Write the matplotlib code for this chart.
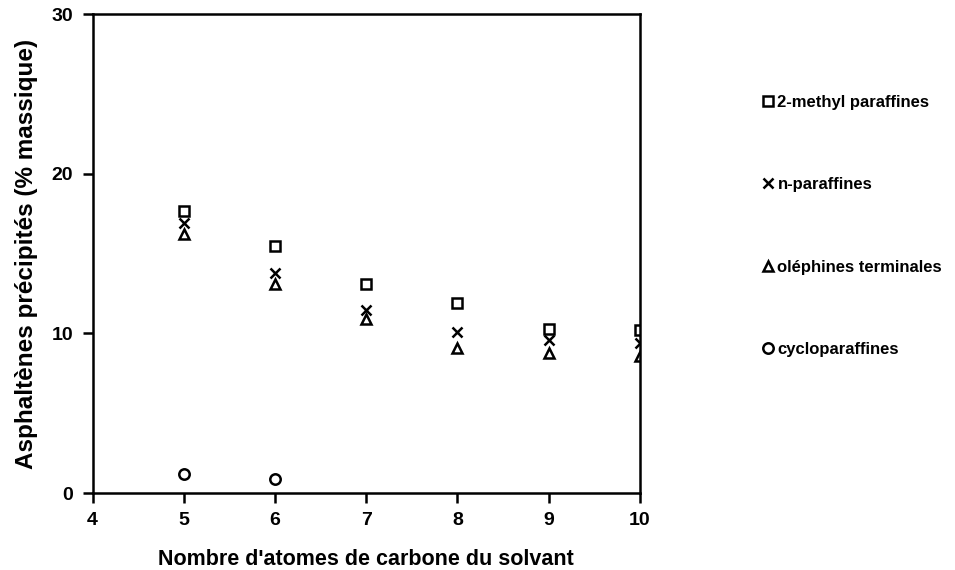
import matplotlib
matplotlib.use("Agg")
import matplotlib.pyplot as plt

# carbon number of the solvent
carbons = [5, 6, 7, 8, 9, 10]
methyl_paraffins = [17.7, 15.5, 13.1, 11.9, 10.3, 10.2]
n_paraffins = [16.9, 13.8, 11.5, 10.1, 9.6, 9.4]
olefins = [16.2, 13.1, 10.9, 9.1, 8.8, 8.6]
cyclo_carbons = [5, 6]
cycloparaffins = [1.2, 0.9]

labels = ["2-methyl paraffines", "n-paraffines", "oléphines terminales", "cycloparaffines"]

plt.rcParams['font.family'] = ['Liberation Sans', 'DejaVu Sans']
plt.rcParams['font.weight'] = 'bold'

fig = plt.figure(figsize=(9.55, 5.7), dpi=100)
ax = fig.add_axes([0.097, 0.135, 0.573, 0.84])

ms = 7.5
ax.plot(carbons, methyl_paraffins, 's', mfc='white', mec='black', mew=1.8, ms=ms, label=labels[0])
ax.plot(carbons, n_paraffins, 'x', color='black', mew=1.8, ms=ms, label=labels[1])
ax.plot(carbons, olefins, '^', mfc='white', mec='black', mew=1.8, ms=ms, label=labels[2])
ax.plot(cyclo_carbons, cycloparaffins, 'o', mfc='white', mec='black', mew=1.8, ms=ms, label=labels[3])

ax.set_xlim(4, 10)
ax.set_ylim(0, 30)
ax.set_xticks(range(4, 11))
ax.set_yticks([0, 10, 20, 30])
for s in ax.spines.values():
    s.set_linewidth(1.8)
ax.tick_params(width=1.8, length=7, labelsize=14, pad=7)
for lab in ax.get_xticklabels() + ax.get_yticklabels():
    lab.set_fontweight('bold')

ax.set_xlabel("Nombre d'atomes de carbone du solvant", fontsize=15.5, fontweight='bold', labelpad=14)
ax.set_ylabel("Asphaltènes précipités (% massique)", fontsize=17.5, fontweight='bold', labelpad=10)

fig.legend(loc='upper left', bbox_to_anchor=(0.78, 0.86), frameon=False,
           labelspacing=4.05, handletextpad=0.05, handlelength=1.0,
           prop={'size': 12, 'weight': 'bold'})

fig.savefig("out.png", dpi=100)
